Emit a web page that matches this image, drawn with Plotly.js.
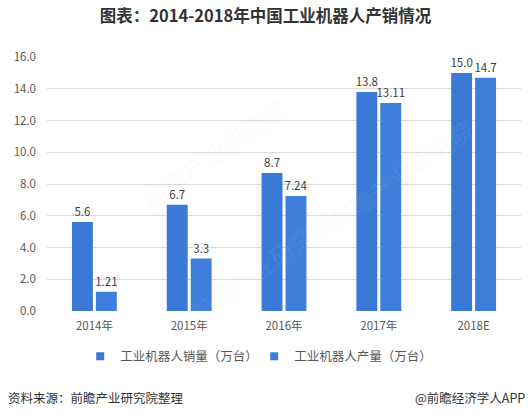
<!DOCTYPE html>
<html>
<head>
<meta charset="utf-8">
<script src="https://cdn.plot.ly/plotly-3.0.1.min.js"></script>
<style>html,body{margin:0;padding:0;background:#fff;}#chart{width:531px;height:419px;}</style>
</head>
<body>
<div id="chart"></div>
<script>
var categories = ['2014年', '2015年', '2016年', '2017年', '2018E'];
var salesValues = [5.6, 6.7, 8.7, 13.8, 15.0];
var salesLabels = ['5.6', '6.7', '8.7', '13.8', '15.0'];
var prodValues = [1.21, 3.3, 7.24, 13.11, 14.7];
var prodLabels = ['1.21', '3.3', '7.24', '13.11', '14.7'];
var yTicks = [0, 2, 4, 6, 8, 10, 12, 14, 16];
var yTickText = ['0.0', '2.0', '4.0', '6.0', '8.0', '10.0', '12.0', '14.0', '16.0'];
var seriesNames = ['工业机器人销量（万台）', '工业机器人产量（万台）'];

var FONT = '"Noto Sans CJK SC", "Noto Sans", sans-serif';
var blue1 = '#3a7ad6';
var blue2 = '#3d7fdb';
var labelFont = {family: FONT, size: 11.5, color: '#404040'};

var traces = [
  {type: 'bar', name: seriesNames[0], x: categories, y: salesValues, text: salesLabels,
   textposition: 'outside', constraintext: 'none', cliponaxis: false, marker: {color: blue1},
   textfont: labelFont, outsidetextfont: labelFont, hoverinfo: 'skip', showlegend: false},
  {type: 'bar', name: seriesNames[1], x: categories, y: prodValues, text: prodLabels,
   textposition: 'outside', constraintext: 'none', cliponaxis: false, marker: {color: blue2},
   textfont: labelFont, outsidetextfont: labelFont, hoverinfo: 'skip', showlegend: false},
  {type: 'scatter', mode: 'markers', name: seriesNames[0], x: [null], y: [null],
   marker: {symbol: 'square', size: 8, color: blue1}, showlegend: true, hoverinfo: 'skip'},
  {type: 'scatter', mode: 'markers', name: seriesNames[1], x: [null], y: [null],
   marker: {symbol: 'square', size: 8, color: blue2}, showlegend: true, hoverinfo: 'skip'}
];

var wm = {family: FONT, size: 24, color: 'rgba(210,214,222,0.09)'};
var layout = {
  width: 531, height: 419,
  margin: {l: 47, r: 10, t: 57, b: 108},
  paper_bgcolor: '#ffffff', plot_bgcolor: '#ffffff',
  font: {family: FONT, size: 11, color: '#595959'},
  title: {text: '图表：2014-2018年中国工业机器人产销情况', x: 0.5, xanchor: 'center', y: 0.962, yanchor: 'middle',
          font: {family: FONT, size: 16.5, color: '#333333', weight: 'bold'}},
  barmode: 'group', bargap: 0.495, bargroupgap: 0.125,
  xaxis: {type: 'category', showgrid: false, zeroline: false, showline: false, ticks: '',
          ticklabelstandoff: 6,
          tickfont: {family: FONT, size: 11.5, color: '#595959'}, fixedrange: true},
  yaxis: {range: [0, 16], tickvals: yTicks, ticktext: yTickText, showgrid: true, gridcolor: '#d9d9d9',
          gridwidth: 1, zeroline: false, showline: false, ticks: '', ticklabelstandoff: 10,
          tickfont: {family: FONT, size: 11.5, color: '#595959'}, fixedrange: true},
  showlegend: true,
  legend: {orientation: 'h', x: 0.07, xanchor: 'left', y: -0.18, yanchor: 'middle',
           font: {family: FONT, size: 12.5, color: '#595959'}, entrywidth: 129, traceorder: 'normal',
           itemwidth: 30},
  annotations: [
    {text: '前瞻产业研究院', xref: 'paper', yref: 'paper', x: 0.18, y: 0.62, showarrow: false, textangle: -35, font: wm},
    {text: '前瞻产业研究院', xref: 'paper', yref: 'paper', x: 0.92, y: 0.8, showarrow: false, textangle: -35, font: wm},
    {text: '前瞻产业研究院', xref: 'paper', yref: 'paper', x: 0.28, y: -0.08, showarrow: false, textangle: -35, font: wm},
    {text: '资料来源：前瞻产业研究院整理', xref: 'paper', yref: 'paper', x: -0.087, xanchor: 'left',
     y: -0.34, yanchor: 'middle', showarrow: false, font: {family: FONT, size: 12.5, color: '#333333'}},
    {text: '@前瞻经济学人APP', xref: 'paper', yref: 'paper', x: 1.012, xanchor: 'right',
     y: -0.34, yanchor: 'middle', showarrow: false, font: {family: FONT, size: 12.5, color: '#333333'}}
  ]
};

Plotly.newPlot('chart', traces, layout, {displayModeBar: false, staticPlot: true});
</script>
</body>
</html>
